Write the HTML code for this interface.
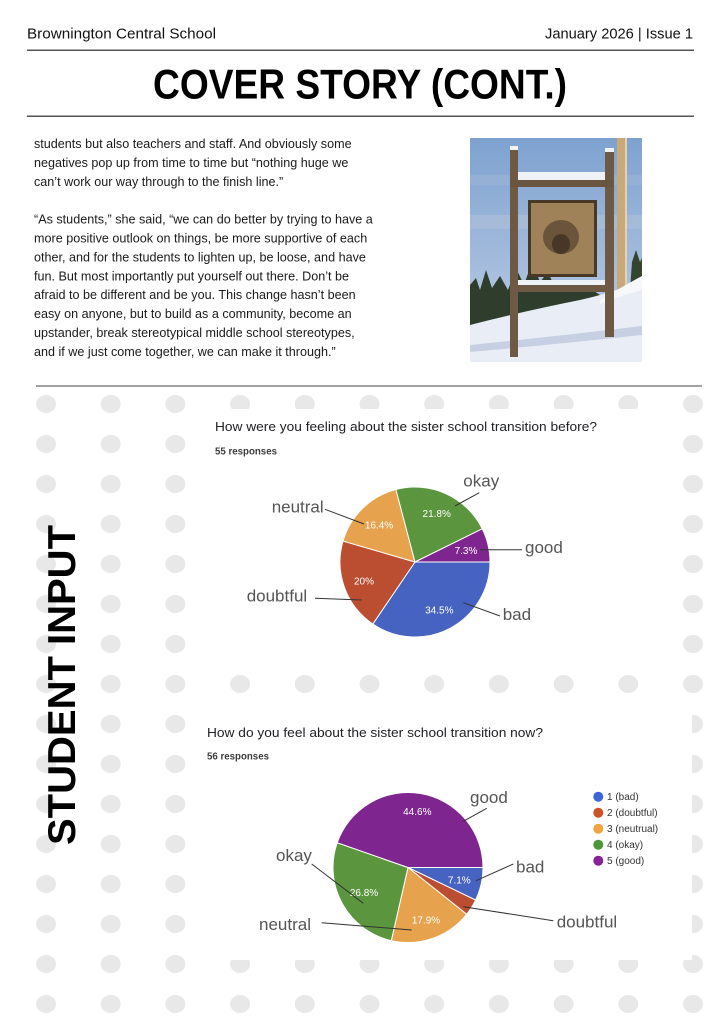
<!DOCTYPE html>
<html><head><meta charset="utf-8">
<style>
html,body{margin:0;padding:0;background:#fff;}
svg{display:block;}
</style></head>
<body>
<svg width="720" height="1024" viewBox="0 0 720 1024" xmlns="http://www.w3.org/2000/svg" font-family="'Liberation Sans', Arial, sans-serif">
<rect width="720" height="1024" fill="#fff"/>

<!-- Header -->
<text x="27" y="38.5" font-size="15" fill="#111" textLength="189" lengthAdjust="spacingAndGlyphs">Brownington Central School</text>
<text x="693" y="38.5" font-size="15" fill="#111" text-anchor="end" textLength="148" lengthAdjust="spacingAndGlyphs">January 2026 | Issue 1</text>
<rect x="27" y="49.5" width="667" height="1.5" fill="#555"/>
<text x="153" y="98.3" font-size="42" font-weight="bold" fill="#000" textLength="414" lengthAdjust="spacingAndGlyphs">COVER STORY (CONT.)</text>
<rect x="27" y="115.5" width="667" height="1.5" fill="#555"/>

<!-- Body text -->
<g font-size="12.6" fill="#1a1a1a">
<text x="34" y="148">students but also teachers and staff. And obviously some</text>
<text x="34" y="166.9">negatives pop up from time to time but “nothing huge we</text>
<text x="34" y="185.8">can’t work our way through to the finish line.”</text>
<text x="34" y="223.6">“As students,” she said, “we can do better by trying to have a</text>
<text x="34" y="242.5">more positive outlook on things, be more supportive of each</text>
<text x="34" y="261.4">other, and for the students to lighten up, be loose, and have</text>
<text x="34" y="280.3">fun. But most importantly put yourself out there. Don’t be</text>
<text x="34" y="299.2">afraid to be different and be you. This change hasn’t been</text>
<text x="34" y="318.1">easy on anyone, but to build as a community, become an</text>
<text x="34" y="337">upstander, break stereotypical middle school stereotypes,</text>
<text x="34" y="355.9">and if we just come together, we can make it through.”</text>
</g>

<!-- Photo -->
<defs>
<linearGradient id="sky" x1="0" y1="0" x2="0" y2="1">
<stop offset="0" stop-color="#7ea2d0"/>
<stop offset="0.55" stop-color="#a3bbdc"/>
<stop offset="1" stop-color="#c3d2e8"/>
</linearGradient>
<clipPath id="ph"><rect x="470" y="138" width="172" height="224"/></clipPath>
</defs>
<g clip-path="url(#ph)">
<rect x="470" y="138" width="172" height="224" fill="url(#sky)"/>
<rect x="470" y="175" width="172" height="10" fill="#9db4d6" opacity="0.6"/>
<rect x="470" y="215" width="172" height="14" fill="#aebfd9" opacity="0.6"/>
<!-- trees -->
<path d="M470,330 L470,285 L476,278 L480,290 L486,270 L492,288 L500,276 L508,290 L516,268 L524,285 L532,262 L540,282 L548,272 L556,290 L566,280 L575,292 L585,285 L600,295 L600,320 Z" fill="#2f3e2c"/>
<path d="M630,290 L632,262 L636,250 L640,262 L642,258 L642,295 Z" fill="#34452f"/>
<!-- pole -->
<rect x="617" y="138" width="8" height="165" fill="#c9a87a"/>
<rect x="625" y="138" width="2" height="160" fill="#e5d2b0"/>
<!-- snow -->
<path d="M470,325 Q520,312 580,300 Q615,292 642,280 L642,362 L470,362 Z" fill="#e9eef6"/>
<path d="M470,345 Q540,338 642,326 L642,335 Q560,344 470,352 Z" fill="#c6d0e2"/>
<path d="M600,300 Q625,285 642,276 L642,290 Q620,296 600,304 Z" fill="#f6f8fb"/>
<!-- posts -->
<rect x="510" y="148" width="8" height="209" fill="#6e5a44"/>
<rect x="605" y="150" width="9" height="187" fill="#6e5a44"/>
<rect x="510" y="146" width="8" height="4" fill="#f2f2f2"/>
<rect x="605" y="148" width="9" height="4" fill="#f2f2f2"/>
<!-- top crossbar -->
<rect x="518" y="172" width="87" height="8" fill="#eef1f5"/>
<rect x="510" y="180" width="104" height="7" fill="#6a5640"/>
<!-- sign -->
<rect x="528" y="200" width="69" height="77" fill="#4a3826"/>
<rect x="531" y="203" width="63" height="71" fill="#a98c62"/>
<rect x="531" y="203" width="63" height="71" fill="#8d7048" opacity="0.35"/>
<ellipse cx="561" cy="237" rx="18" ry="17" fill="#5a4630" opacity="0.75"/>
<ellipse cx="561" cy="244" rx="9" ry="10" fill="#3e3022" opacity="0.8"/>
<!-- lower crossbar -->
<rect x="518" y="280" width="87" height="5" fill="#eef1f5"/>
<rect x="518" y="285" width="87" height="7" fill="#6e5a44"/>
</g>

<!-- separator -->
<rect x="36" y="385.5" width="666" height="1" fill="#444"/>

<!-- dots -->
<g fill="#e8e8e8">
<g id="row">
<ellipse cx="46" cy="404" rx="10" ry="9"/><ellipse cx="110.7" cy="404" rx="10" ry="9"/><ellipse cx="175.4" cy="404" rx="10" ry="9"/><ellipse cx="240.1" cy="404" rx="10" ry="9"/><ellipse cx="304.8" cy="404" rx="10" ry="9"/><ellipse cx="369.5" cy="404" rx="10" ry="9"/><ellipse cx="434.2" cy="404" rx="10" ry="9"/><ellipse cx="498.9" cy="404" rx="10" ry="9"/><ellipse cx="563.6" cy="404" rx="10" ry="9"/><ellipse cx="628.3" cy="404" rx="10" ry="9"/><ellipse cx="693" cy="404" rx="10" ry="9"/>
</g>
<use href="#row" y="40"/><use href="#row" y="80"/><use href="#row" y="120"/><use href="#row" y="160"/>
<use href="#row" y="200"/><use href="#row" y="240"/><use href="#row" y="280"/><use href="#row" y="320"/>
<use href="#row" y="360"/><use href="#row" y="400"/><use href="#row" y="440"/><use href="#row" y="480"/>
<use href="#row" y="520"/><use href="#row" y="560"/><use href="#row" y="600"/>
</g>

<!-- vertical title -->
<text transform="translate(75,845) rotate(-90)" x="0" y="0" font-size="39" font-weight="bold" fill="#000" textLength="320" lengthAdjust="spacingAndGlyphs">STUDENT INPUT</text>

<!-- Chart 1 -->
<rect x="200" y="409" width="483" height="247" fill="#fff"/>
<text x="215" y="431" font-size="13" fill="#202124" textLength="382" lengthAdjust="spacingAndGlyphs">How were you feeling about the sister school transition before?</text>
<text x="215" y="454.5" font-size="10" fill="#3c3c3c" font-weight="bold" textLength="62" lengthAdjust="spacingAndGlyphs">55 responses</text>
<g stroke="#fff" stroke-width="1">
<path d="M415,562 L490,562 A75,75 0 0,1 372.84,624.03 Z" fill="#4763c2"/>
<path d="M415,562 L372.84,624.03 A75,75 0 0,1 342.98,541.08 Z" fill="#bb4e30"/>
<path d="M415,562 L342.98,541.08 A75,75 0 0,1 395.89,489.48 Z" fill="#e6a24c"/>
<path d="M415,562 L395.89,489.48 A75,75 0 0,1 482.25,528.79 Z" fill="#5b963e"/>
<path d="M415,562 L482.25,528.79 A75,75 0 0,1 490,562 Z" fill="#7f2590"/>
</g>
<g font-size="10" fill="#fff" text-anchor="middle">
<text x="436.7" y="516.8">21.8%</text>
<text x="379" y="528.5">16.4%</text>
<text x="466" y="553.8">7.3%</text>
<text x="364" y="584.5">20%</text>
<text x="439.3" y="613.5">34.5%</text>
</g>
<g stroke="#333" stroke-width="1">
<line x1="479.3" y1="492.7" x2="455" y2="506"/>
<line x1="325" y1="509.3" x2="364" y2="524"/>
<line x1="480" y1="549.7" x2="522" y2="549.7"/>
<line x1="315" y1="598.3" x2="361.7" y2="600"/>
<line x1="463.3" y1="602.7" x2="500" y2="616"/>
</g>
<g font-size="17" fill="#555">
<text x="463.3" y="486.5">okay</text>
<text x="271.7" y="512.7">neutral</text>
<text x="525" y="553">good</text>
<text x="246.7" y="601.7">doubtful</text>
<text x="502.7" y="620">bad</text>
</g>

<!-- Chart 2 -->
<rect x="195" y="698" width="497" height="262" fill="#fff"/>
<text x="207" y="737" font-size="13" fill="#202124" textLength="336" lengthAdjust="spacingAndGlyphs">How do you feel about the sister school transition now?</text>
<text x="207" y="759.5" font-size="10" fill="#3c3c3c" font-weight="bold" textLength="62" lengthAdjust="spacingAndGlyphs">56 responses</text>
<g stroke="#fff" stroke-width="1">
<path d="M408,867.5 L483,867.5 A75,75 0 0,1 475.58,900.04 Z" fill="#4763c2"/>
<path d="M408,867.5 L475.58,900.04 A75,75 0 0,1 466.64,914.26 Z" fill="#bb4e30"/>
<path d="M408,867.5 L466.64,914.26 A75,75 0 0,1 391.31,940.62 Z" fill="#e6a24c"/>
<path d="M408,867.5 L391.31,940.62 A75,75 0 0,1 337.21,842.73 Z" fill="#5b963e"/>
<path d="M408,867.5 L337.21,842.73 A75,75 0 0,1 483,867.5 Z" fill="#7f2590"/>
</g>
<g font-size="10" fill="#fff" text-anchor="middle">
<text x="417.3" y="815.2">44.6%</text>
<text x="459.3" y="883.5">7.1%</text>
<text x="364" y="896.2">26.8%</text>
<text x="426" y="923.5">17.9%</text>
</g>
<g stroke="#333" stroke-width="1">
<line x1="486.7" y1="808.3" x2="462.7" y2="821.7"/>
<line x1="513.3" y1="864" x2="476" y2="880.7"/>
<line x1="311.7" y1="864" x2="363.3" y2="903.3"/>
<line x1="321.7" y1="922.7" x2="411.7" y2="930"/>
<line x1="553.3" y1="920.7" x2="463.3" y2="906.7"/>
</g>
<g font-size="17" fill="#555">
<text x="470" y="803">good</text>
<text x="516" y="872.7">bad</text>
<text x="276" y="861">okay</text>
<text x="259" y="930">neutral</text>
<text x="556.7" y="927.7">doubtful</text>
</g>
<!-- legend -->
<circle cx="598.3" cy="796.7" r="5" fill="#3c66d6"/>
<circle cx="598.3" cy="812.7" r="5" fill="#cc5427"/>
<circle cx="598.3" cy="828.7" r="5" fill="#f2a53f"/>
<circle cx="598.3" cy="844.7" r="5" fill="#4e9638"/>
<circle cx="598.3" cy="860.7" r="5" fill="#8a2098"/>
<g font-size="10" fill="#333">
<text x="607" y="800.2">1 (bad)</text>
<text x="607" y="816.2">2 (doubtful)</text>
<text x="607" y="832.2">3 (neutrual)</text>
<text x="607" y="848.2">4 (okay)</text>
<text x="607" y="864.2">5 (good)</text>
</g>
</svg>
</body></html>
